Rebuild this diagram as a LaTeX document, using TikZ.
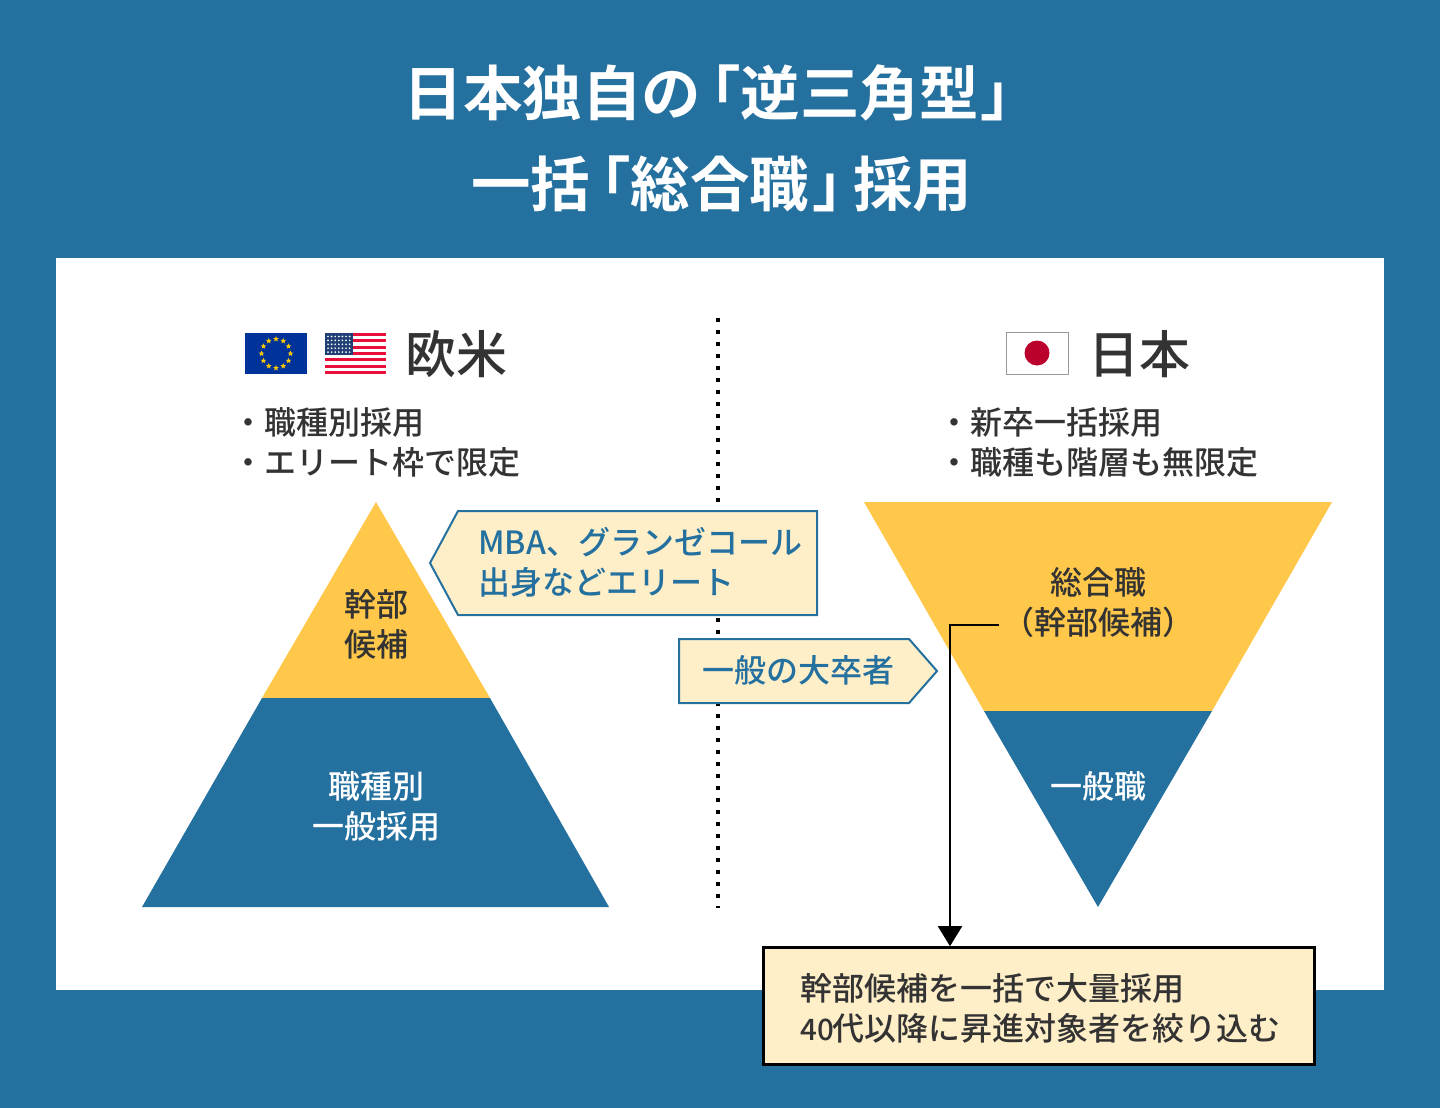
\documentclass[tikz,border=0pt]{standalone}
\usepackage{fontspec}
\usetikzlibrary{arrows.meta,shapes.geometric}
\setmainfont{Noto Sans CJK JP}[RawFeature=+palt]
\newfontfamily\jpplain{Noto Sans CJK JP Medium}
\newfontfamily\jpmed{Noto Sans CJK JP Medium}[RawFeature=+palt]
\newfontfamily\jptitle{Noto Sans CJK JP Bold}
\definecolor{bluebg}{HTML}{24709F}
\definecolor{yel}{HTML}{FFC84A}
\definecolor{cream}{HTML}{FFEFC9}
\definecolor{ink}{HTML}{333333}
\definecolor{eublue}{HTML}{003399}
\definecolor{eustar}{HTML}{FFCC00}
\definecolor{usred}{HTML}{E8103A}
\definecolor{usblue}{HTML}{1F3F75}
\definecolor{jpred}{HTML}{BC002D}
\tikzset{
  x=1pt,y=-1pt,
  title/.style={font=\fontsize{59.5}{90}\selectfont\jptitle,text=white,anchor=west,inner sep=0pt},
  head/.style={font=\fontsize{51}{60}\selectfont\jpmed,text=ink,anchor=west,inner sep=0pt},
  body/.style={font=\fontsize{32}{40}\selectfont\jpplain,text=ink,align=left,anchor=west,inner sep=0pt},
  mid/.style={font=\fontsize{32}{40}\selectfont\jpplain,align=center,inner sep=0pt},
  tag/.style={fill=cream,draw=bluebg,line width=2pt,line join=miter},
  tagtext/.style={font=\fontsize{32}{40}\selectfont\jpplain,text=bluebg,align=left,anchor=west,inner sep=0pt},
  notebox/.style={fill=cream,draw=black,line width=2.6pt,minimum width=551pt,minimum height=117pt,inner sep=0pt},
}
\begin{document}
\begin{tikzpicture}
\useasboundingbox (0,0) rectangle (1440,1108);
\fill[bluebg] (0,0) rectangle (1440,1108);
\fill[white] (56,258) rectangle (1384,990);

\node[title] (t1) at (403.5,93) {日本独自の\kern-20pt「逆三角型\kern2pt」};
\node[title] (t2) at (471,184) {一括\kern-19pt「総合職\kern3pt」\kern-18.5pt 採用};

% divider
\draw[line width=4pt,dash pattern=on 4pt off 8pt] (718,318) -- (718,908);

% EU flag
\fill[eublue] (245,333) rectangle (307,374);
\foreach \a in {0,30,...,330}{
  \node[star,star points=5,star point ratio=2.4,fill=eustar,inner sep=0pt,minimum size=6pt] at ({276+14.5*cos(\a)},{353.5+14.5*sin(\a)}) {};
}
% US flag
\fill[white] (325,333) rectangle (386,374);
\foreach \i in {0,2,...,12}{
  \fill[usred] (325,{333+\i*41/13}) rectangle (386,{333+(\i+1)*41/13});
}
\fill[usblue] (325,333) rectangle (352.5,355);
\foreach \r in {0,...,4}{\foreach \c in {0,...,6}{
  \fill[white] ({328+\c*3.6},{336.5+\r*3.9}) circle (0.95);
}}
\node[head] (eu) at (405,354) {欧米};

% Japan flag
\draw[fill=white,draw=gray!80,line width=1pt] (1006.5,332.5) rectangle (1068,374);
\fill[jpred] (1037,353) circle (12.5);
\node[head] (jp) at (1088,354) {日本};

% bullets
\node[body] (leftlist) at (232,442) {・職種別採用\\・エリート枠で限定};
\node[body] (rightlist) at (938,442) {・新卒一括採用\\・職種も階層も無限定};

% left pyramid
\fill[yel] (376,502) -- (490,698) -- (262,698) -- cycle;
\fill[bluebg] (262,698) -- (490,698) -- (609,907) -- (142,907) -- cycle;
\node[mid,text=ink] (kanbu) at (376,624) {幹部\\候補};
\node[mid,text=white] (shokushu) at (376,806) {職種別\\一般採用};

% right pyramid
\fill[yel] (864,502) -- (1332,502) -- (1212,711) -- (984,711) -- cycle;
\fill[bluebg] (984,711) -- (1212,711) -- (1098,907) -- cycle;
\node[mid,text=ink] (sogo) at (1098,603) {総合職\\（幹部候補）};
\node[mid,text=white] (ippan) at (1098,786) {一般職};

% tags
\draw[tag] (458,511) -- (817,511) -- (817,615) -- (458,615) -- (430,563) -- cycle;
\node[tagtext] (mba) at (478,562) {MBA、グランゼコール\\出身などエリート};
\draw[tag] (679,639) -- (909,639) -- (937,671) -- (909,703) -- (679,703) -- cycle;
\node[tagtext] (daisotsu) at (702,670) {一般の大卒者};

% note
\node[notebox] (note) at (1039,1006) {};
\node[body] (notetext) at (800,1008) {幹部候補を一括で大量採用\\{\fontsize{29.5}{40}\selectfont 40}\kern-1.5pt 代以降に昇進対象者を絞り込む};
\coordinate (cstart) at (999,625);
\coordinate (celbow) at (950,625);
\draw[line width=2pt,-{Triangle[length=20pt,width=24pt]}] (cstart) -- (celbow) -- (celbow |- note.north);
\end{tikzpicture}
\end{document}
